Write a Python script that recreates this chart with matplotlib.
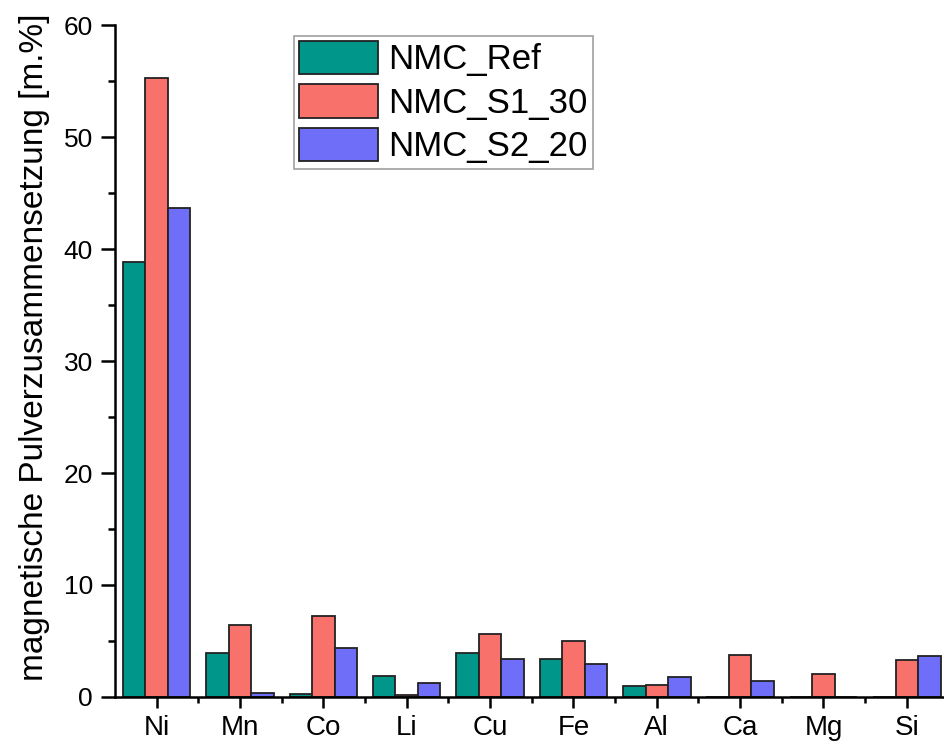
import numpy as np
import matplotlib.pyplot as plt
from matplotlib.ticker import MultipleLocator, FixedLocator

plt.rcParams['font.family'] = ['Liberation Sans', 'DejaVu Sans']

elements = ['Ni', 'Mn', 'Co', 'Li', 'Cu', 'Fe', 'Al', 'Ca', 'Mg', 'Si']
nmc_ref = [38.8, 3.9, 0.3, 1.85, 3.9, 3.35, 1.0, 0.0, 0.0, 0.0]
nmc_s1_30 = [55.3, 6.4, 7.2, 0.2, 5.6, 5.0, 1.05, 3.75, 2.05, 3.33]
nmc_s2_20 = [43.7, 0.4, 4.4, 1.28, 3.35, 2.95, 1.8, 1.45, 0.0, 3.63]

series = [('NMC_Ref', nmc_ref, '#00968A'),
          ('NMC_S1_30', nmc_s1_30, '#F8716A'),
          ('NMC_S2_20', nmc_s2_20, '#6E6EF8')]

fig = plt.figure(figsize=(9.44, 7.44), dpi=100)
ax = fig.add_axes([115 / 944, 47 / 744, 833.5 / 944, 672 / 744])

x = np.arange(len(elements))
w = 0.27
for i, (name, vals, col) in enumerate(series):
    ax.bar(x + (i - 1) * w, vals, width=w, color=col, edgecolor='#222222',
           linewidth=1.3, label=name)

ax.set_xlim(-0.5, len(elements) - 0.5)
ax.set_ylim(0, 60)
ax.set_xticks(x)
ax.set_xticklabels(elements)
ax.xaxis.set_minor_locator(FixedLocator(x[:-1] + 0.5))
ax.yaxis.set_major_locator(MultipleLocator(10))
ax.yaxis.set_minor_locator(MultipleLocator(5))

for side in ['top', 'right']:
    ax.spines[side].set_visible(False)
for side in ['left', 'bottom']:
    ax.spines[side].set_linewidth(1.8)

ax.tick_params(axis='y', which='major', length=10, width=1.8, labelsize=19, pad=6)
ax.tick_params(axis='y', which='minor', length=5, width=1.8)
ax.tick_params(axis='x', which='major', length=8, width=1.8, labelsize=20, pad=5)
ax.tick_params(axis='x', which='minor', length=4.5, width=1.8)

ax.set_ylabel('magnetische Pulverzusammensetzung [m.%]', fontsize=24)
ax.yaxis.set_label_coords(-0.078, 0.52)

leg = ax.legend(loc='upper left', bbox_to_anchor=(0.215, 0.984), fontsize=25,
                fancybox=False, frameon=True, edgecolor='#888888',
                handlelength=2.25, handleheight=1.1, handletextpad=0.3,
                labelspacing=0.23, borderpad=0.15, borderaxespad=0)
leg.get_frame().set_linewidth(1.2)

fig.savefig('out.png', dpi=100)
